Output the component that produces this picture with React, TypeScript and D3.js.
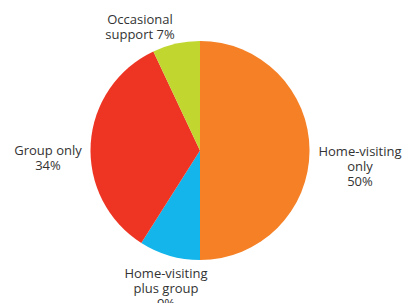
import React from "react";
import * as d3 from "d3";

// slice data, clockwise from 12 o'clock
const categories = ["Home-visiting only", "Home-visiting plus group", "Group only", "Occasional support"];
const shares = [50, 9, 34, 7];
const labelLines = [
  ["Home-visiting", "only", "50%"],
  ["Home-visiting", "plus group", "9%"],
  ["Group only", "34%"],
  ["Occasional", "support 7%"],
];
const colors = ["#F58025", "#13B5EA", "#EE3524", "#C1D730"];

// where each label block sits (centre x, first line y), relative to pie centre
const labelLayout = [
  { dx: 160, dy: 0.5 },
  { dx: -34, dy: 122.5 },
  { dx: -152, dy: -0.5 },
  { dx: -60, dy: -131.5 },
];

const App = () => {
  const width = 408;
  const height = 303;
  const cx = 200;
  const cy = 150.5;
  const radius = 109.5;
  const lineH = 15;

  const pie = d3
    .pie<number>()
    .sort(null)
    .value((d) => d);
  const arcs = pie(shares);
  const arc = d3.arc<d3.PieArcDatum<number>>().innerRadius(0).outerRadius(radius);

  return (
    <svg
      width={width}
      height={height}
      style={{ position: "absolute", left: 0, top: 0, background: "#fff" }}
      fontFamily="'Open Sans', sans-serif"
      fontSize={13}
    >
      <g transform={`translate(${cx},${cy})`}>
        {arcs.map((a, i) => (
          <path key={categories[i]} d={arc(a) || ""} fill={colors[i]} />
        ))}
        {labelLines.map((lines, i) => (
          <text
            key={categories[i]}
            x={labelLayout[i].dx}
            y={labelLayout[i].dy}
            textAnchor="middle"
            fill="#333"
            dominantBaseline="central"
          >
            {lines.map((l, j) => (
              <tspan key={j} x={labelLayout[i].dx} dy={j === 0 ? 0 : lineH}>
                {l}
              </tspan>
            ))}
          </text>
        ))}
      </g>
    </svg>
  );
};

export default App;
